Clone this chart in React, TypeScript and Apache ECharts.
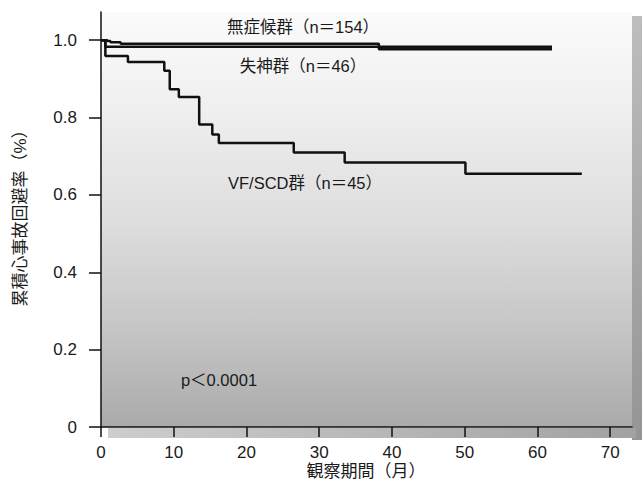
import React, { useEffect, useRef } from "react";
import * as echarts from "echarts";

const asymMonths = [0, 0.9, 1.3, 2.7, 38.2, 62];
const asymSurvival = [1.0, 0.998, 0.995, 0.991, 0.977, 0.977];
const syncopeMonths = [0, 0.6, 62];
const syncopeSurvival = [1.0, 0.983, 0.983];
const vfMonths = [0, 0.6, 3.7, 8.7, 9.45, 10.7, 13.5, 15.3, 16.2, 26.5, 33.5, 50.1, 66.1];
const vfSurvival = [1.0, 0.959, 0.944, 0.921, 0.873, 0.853, 0.782, 0.756, 0.734, 0.71, 0.684, 0.655, 0.655];
const xTicks = [0, 10, 20, 30, 40, 50, 60, 70];
const yTicks = [0, 0.2, 0.4, 0.6, 0.8, 1.0];
const seriesNames = ["無症候群（n＝154）", "失神群（n＝46）", "VF/SCD群（n＝45）"];
const pValueLabel = "p＜0.0001";
const xAxisTitle = "観察期間（月）";
const yAxisTitle = "累積心事故回避率（%）";

const FONT = "'Liberation Sans', Arial, 'Noto Sans CJK JP', sans-serif";

function pairs(xs: number[], ys: number[]) {
  return xs.map((x, i) => [x, ys[i]]);
}

export default function App() {
  const ref = useRef<HTMLDivElement>(null);
  useEffect(() => {
    if (!ref.current) return;
    const chart = echarts.init(ref.current, null, { renderer: "svg" });
    const lineStyle = { color: "#111", width: 2.5 };
    const txt = (text: string, x: number, y: number, extra: any = {}) => ({
      type: "text",
      x,
      y,
      z: 20,
      style: {
        text,
        fill: "#1a1a1a",
        font: `16.5px ${FONT}`,
        textAlign: "center",
        textVerticalAlign: "middle",
        ...extra,
      },
    });
    const streak = (x: number, y1: number, y2: number) => ({
      type: "line",
      z: -1,
      shape: { x1: x, y1, x2: x, y2 },
      style: { stroke: "#ffffff", lineWidth: 1.5, opacity: 0.35 },
    });
    chart.setOption({
      animation: false,
      backgroundColor: "#ffffff",
      grid: {
        left: 101,
        right: 10,
        top: 12,
        bottom: 61,
        show: true,
        borderWidth: 0,
        backgroundColor: new echarts.graphic.LinearGradient(0, 0, 0, 1, [
          { offset: 0, color: "#fbfbfb" },
          { offset: 0.2, color: "#f1f1f1" },
          { offset: 0.5, color: "#dedede" },
          { offset: 0.75, color: "#c7c7c7" },
          { offset: 1, color: "#aaaaaa" },
        ]),
      },
      xAxis: {
        type: "value",
        min: 0,
        max: 73,
        splitLine: { show: false },
        axisLine: { show: true, lineStyle: { color: "#111", width: 1.5 } },
        axisTick: { show: true, length: 10, customValues: xTicks, lineStyle: { color: "#111", width: 1.5 } },
        axisLabel: {
          customValues: xTicks,
          margin: 17,
          color: "#1a1a1a",
          fontSize: 17,
          fontFamily: FONT,
        },
      },
      yAxis: {
        type: "value",
        min: 0,
        max: 1.073,
        splitLine: { show: false },
        axisLine: { show: true, lineStyle: { color: "#111", width: 1.5 } },
        axisTick: { show: true, length: 12, customValues: yTicks, lineStyle: { color: "#111", width: 1.5 } },
        axisLabel: {
          customValues: yTicks,
          margin: 24,
          color: "#1a1a1a",
          fontSize: 17,
          fontFamily: FONT,
          formatter: (v: number) => (v === 0 ? "0" : v.toFixed(1)),
        },
      },
      graphic: [
        {
          type: "rect",
          z: -1,
          shape: { x: 632, y: 16, width: 10, height: 424 },
          style: {
            fill: new echarts.graphic.LinearGradient(0, 0, 0, 1, [
              { offset: 0, color: "#bdbdbd" },
              { offset: 1, color: "#959595" },
            ]),
          },
        },
        {
          type: "rect",
          z: -1,
          shape: { x: 108, y: 428, width: 528, height: 10 },
          style: {
            fill: new echarts.graphic.LinearGradient(0, 0, 1, 0, [
              { offset: 0, color: "#cdcdcd" },
              { offset: 1, color: "#a2a2a2" },
            ]),
          },
        },
        streak(180, 300, 426),
        streak(280, 230, 426),
        streak(378.5, 150, 426),
        streak(576, 300, 426),
        txt(seriesNames[0], 303, 27),
        txt(seriesNames[1], 303, 66),
        txt(seriesNames[2], 305, 183),
        txt(pValueLabel, 219, 380),
        txt(xAxisTitle, 366, 471, { font: `17px ${FONT}` }),
        {
          type: "text",
          x: 20,
          y: 214,
          rotation: Math.PI / 2,
          z: 20,
          style: {
            text: yAxisTitle,
            fill: "#1a1a1a",
            font: `17px ${FONT}`,
            textAlign: "center",
            textVerticalAlign: "middle",
          },
        },
      ],
      series: [
        {
          name: seriesNames[0],
          type: "line",
          step: "end",
          symbol: "none",
          data: pairs(asymMonths, asymSurvival),
          lineStyle,
        },
        {
          name: seriesNames[1],
          type: "line",
          step: "end",
          symbol: "none",
          data: pairs(syncopeMonths, syncopeSurvival),
          lineStyle,
        },
        {
          name: seriesNames[2],
          type: "line",
          step: "end",
          symbol: "none",
          data: pairs(vfMonths, vfSurvival),
          lineStyle,
        },
      ],
    });
    return () => chart.dispose();
  }, []);
  return (
    <div
      ref={ref}
      style={{ position: "absolute", left: 0, top: 0, width: 642, height: 488, background: "#fff" }}
    />
  );
}
